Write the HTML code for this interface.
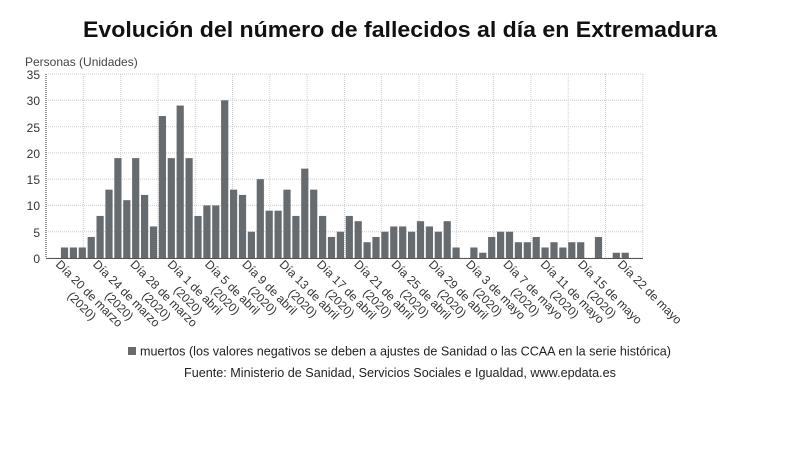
<!DOCTYPE html>
<html><head><meta charset="utf-8"><style>
html,body{margin:0;padding:0;background:#fff;}
svg{display:block;font-family:"Liberation Sans","DejaVu Sans",sans-serif;}
</style></head><body>
<svg id="s" width="800" height="470" viewBox="0 0 800 470" xmlns="http://www.w3.org/2000/svg">
<rect width="800" height="470" fill="#fff"/>
<text x="400" y="37" text-anchor="middle" font-size="22" font-weight="bold" fill="#111" textLength="634" lengthAdjust="spacingAndGlyphs">Evolución del número de fallecidos al día en Extremadura</text>
<text x="25" y="66" font-size="12" fill="#444">Personas (Unidades)</text>
<g id="grid"></g>
<g id="bars" fill="#666b70"></g>
<line x1="46" y1="74" x2="46" y2="258" stroke="#333" stroke-width="1" stroke-dasharray="1,1"/>
<line x1="46" y1="258.5" x2="643" y2="258.5" stroke="#555" stroke-width="1"/>
<g font-size="12" fill="#333" text-anchor="end">
<text x="40" y="79">35</text><text x="40" y="105">30</text><text x="40" y="132">25</text><text x="40" y="158">20</text><text x="40" y="184">15</text><text x="40" y="210">10</text><text x="40" y="237">5</text><text x="40" y="263">0</text>
</g>
<g font-size="12" fill="#333">
<g transform="translate(55,265) rotate(45)"><text x="0" y="0">Día 20 de marzo</text><text x="48" y="14" text-anchor="middle">(2020)</text></g>
<g transform="translate(92.3,265) rotate(45)"><text x="0" y="0">Día 24 de marzo</text><text x="48" y="14" text-anchor="middle">(2020)</text></g>
<g transform="translate(129.6,265) rotate(45)"><text x="0" y="0">Día 28 de marzo</text><text x="48" y="14" text-anchor="middle">(2020)</text></g>
<g transform="translate(166.9,265) rotate(45)"><text x="0" y="0">Día 1 de abril</text><text x="40" y="14" text-anchor="middle">(2020)</text></g>
<g transform="translate(204.2,265) rotate(45)"><text x="0" y="0">Día 5 de abril</text><text x="40" y="14" text-anchor="middle">(2020)</text></g>
<g transform="translate(241.5,265) rotate(45)"><text x="0" y="0">Día 9 de abril</text><text x="40" y="14" text-anchor="middle">(2020)</text></g>
<g transform="translate(278.8,265) rotate(45)"><text x="0" y="0">Día 13 de abril</text><text x="44" y="14" text-anchor="middle">(2020)</text></g>
<g transform="translate(316.1,265) rotate(45)"><text x="0" y="0">Día 17 de abril</text><text x="44" y="14" text-anchor="middle">(2020)</text></g>
<g transform="translate(353.4,265) rotate(45)"><text x="0" y="0">Día 21 de abril</text><text x="44" y="14" text-anchor="middle">(2020)</text></g>
<g transform="translate(390.7,265) rotate(45)"><text x="0" y="0">Día 25 de abril</text><text x="44" y="14" text-anchor="middle">(2020)</text></g>
<g transform="translate(428,265) rotate(45)"><text x="0" y="0">Día 29 de abril</text><text x="44" y="14" text-anchor="middle">(2020)</text></g>
<g transform="translate(465.3,265) rotate(45)"><text x="0" y="0">Día 3 de mayo</text><text x="42" y="14" text-anchor="middle">(2020)</text></g>
<g transform="translate(502.6,265) rotate(45)"><text x="0" y="0">Día 7 de mayo</text><text x="42" y="14" text-anchor="middle">(2020)</text></g>
<g transform="translate(539.9,265) rotate(45)"><text x="0" y="0">Día 11 de mayo</text><text x="45" y="14" text-anchor="middle">(2020)</text></g>
<g transform="translate(577.2,265) rotate(45)"><text x="0" y="0">Día 15 de mayo</text><text x="45" y="14" text-anchor="middle">(2020)</text></g>
<g transform="translate(617,265) rotate(45)"><text x="0" y="0">Día 22 de mayo</text></g>
</g>
<rect x="128" y="347" width="8" height="8" fill="#666b70"/>
<text x="140" y="355.5" font-size="12.5" fill="#222" textLength="531" lengthAdjust="spacingAndGlyphs">muertos (los valores negativos se deben a ajustes de Sanidad o las CCAA en la serie histórica)</text>
<text x="400" y="377" font-size="12.5" fill="#222" text-anchor="middle" textLength="432" lengthAdjust="spacingAndGlyphs">Fuente: Ministerio de Sanidad, Servicios Sociales e Igualdad, www.epdata.es</text>
</svg>
<script>
var NS="http://www.w3.org/2000/svg";
function el(p,t,a){var e=document.createElementNS(NS,t);for(var k in a)e.setAttribute(k,a[k]);p.appendChild(e);return e;}
var g=document.getElementById("grid");
for(var i=0;i<=7;i++){var y=74+i*184/7;el(g,"line",{x1:46,x2:643,y1:y,y2:y,stroke:"#ccc","stroke-width":1,"stroke-dasharray":"1,1"});}
for(var k=1;k<=16;k++){var x=46+k*37.3;el(g,"line",{x1:x,x2:x,y1:74,y2:258,stroke:"#ccc","stroke-width":1,"stroke-dasharray":"1,1"});}
var d=[0,2,2,2,4,8,13,19,11,19,12,6,27,19,29,19,8,10,10,30,13,12,5,15,9,9,13,8,17,13,8,4,5,8,7,3,4,5,6,6,5,7,6,5,7,2,0,2,1,4,5,5,3,3,4,2,3,2,3,3,0,4,0,1,1];
var b=document.getElementById("bars");
for(var i=0;i<d.length;i++){if(!d[i])continue;var h=d[i]*184/35;el(b,"rect",{x:55.6+i*8.9-3.6,y:258-h,width:7.2,height:h});}
</script>
</body></html>
